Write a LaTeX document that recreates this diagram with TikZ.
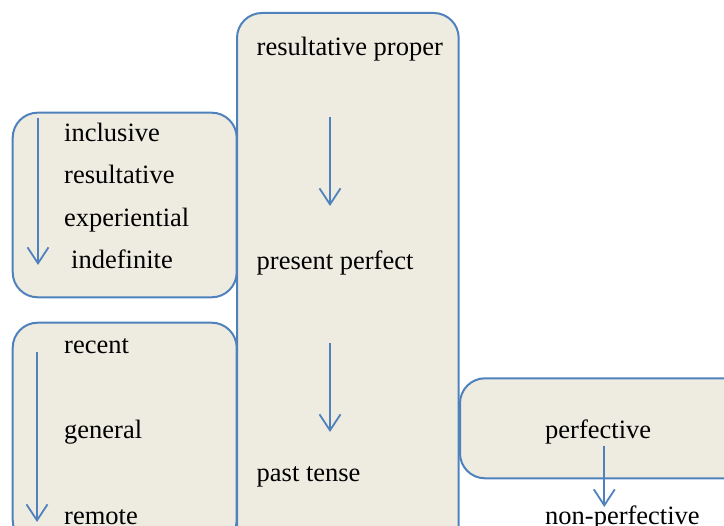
\documentclass[tikz,border=0pt]{standalone}
\usepackage{fontspec}
\setmainfont{Liberation Serif}
\usetikzlibrary{arrows.meta}
\definecolor{boxfill}{HTML}{EEECE1}
\definecolor{boxline}{HTML}{4F81BD}
\tikzset{
  boxshape/.style={draw=boxline, fill=boxfill, line width=2pt, rounded corners=25pt},
  lbl/.style={anchor=base west, inner sep=0pt, font=\fontsize{26.5}{30}\selectfont, text=black},
  downarrow/.style={draw=boxline, line width=1.8pt, -{Straight Barb[length=16pt,width=21pt,line width=1.8pt]}}
}
\begin{document}
\begin{tikzpicture}[x=1pt,y=-1pt]
\useasboundingbox (0,0) rectangle (724,526);
\begin{scope}
\clip (0,0) rectangle (724,526);
% boxes
\draw[boxshape] (12.7,112.7) rectangle (236.7,297.3);
\draw[boxshape] (12.7,322.7) rectangle (236.7,545);
\draw[boxshape] (237,13) rectangle (458.7,560);
\draw[boxshape] (460,378.3) rectangle (750,478.3);
\end{scope}
% labels
\node[lbl] (incl) at (64,141.5) {inclusive};
\node[lbl] (res) at (64,183.5) {resultative};
\node[lbl] (exp) at (64,226.5) {experiential};
\node[lbl] (indef) at (71,268.5) {indefinite};
\node[lbl] (rec) at (64,353.5) {recent};
\node[lbl] (gen) at (64,438.5) {general};
\node[lbl] (rem) at (64,524.5) {remote};
\node[lbl] (rp) at (256.5,55.5) {resultative proper};
\node[lbl] (pp) at (256.5,269.5) {present perfect};
\node[lbl] (pt) at (256.5,481.5) {past tense};
\node[lbl] (pf) at (545,438.5) {perfective};
\node[lbl] (npf) at (545,524.5) {non-perfective};
% arrow end points
\coordinate (a1s) at (38,118);   \coordinate (a1e) at (38,265);
\coordinate (a2s) at (37,352);   \coordinate (a2e) at (37,522);
\coordinate (c1s) at (330,117);  \coordinate (c1e) at (330,206);
\coordinate (c2s) at (330,343);  \coordinate (c2e) at (330,432);
\coordinate (d1s) at (604.3,446);\coordinate (d1e) at (604.3,507);
\draw[downarrow] (a1s) -- (a1e);
\draw[downarrow] (a2s) -- (a2e);
\draw[downarrow] (c1s) -- (c1e);
\draw[downarrow] (c2s) -- (c2e);
\draw[downarrow] (d1s) -- (d1e);
\end{tikzpicture}
\end{document}
